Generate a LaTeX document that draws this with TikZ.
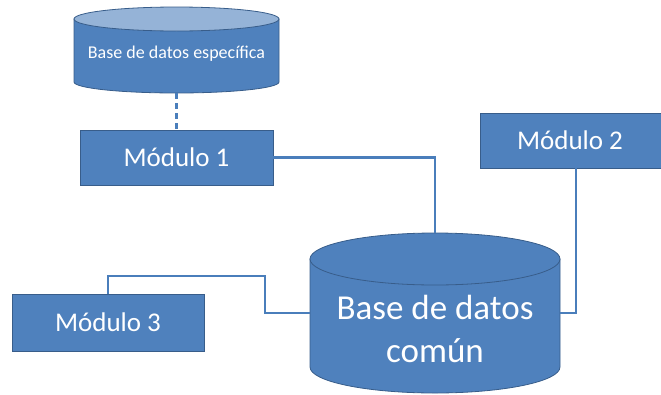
\documentclass[tikz,border=0pt]{standalone}
\usepackage{fontspec}
\setmainfont{Carlito}
\definecolor{boxblue}{HTML}{4F81BD}
\definecolor{boxedge}{HTML}{385D8A}
\definecolor{linkblue}{HTML}{4A7EBB}
\definecolor{toplight}{HTML}{95B3D7}
\begin{document}
\begin{tikzpicture}[x=1pt,y=-1pt,
  modbox/.style={draw=boxedge,fill=boxblue,line width=0.8pt,text=white,
    font=\fontsize{27}{32}\selectfont,inner sep=0pt},
  link/.style={draw=linkblue,line width=2.2pt},
  anchorbox/.style={inner sep=0pt,outer sep=0pt}]
\useasboundingbox (0,0) rectangle (661,394);
\clip (0,0) rectangle (661,394);

% specific database (small cylinder)
\fill[boxblue,draw=boxedge,line width=0.8pt]
  (74,19) -- (74,82) arc[start angle=180,end angle=0,x radius=102.5,y radius=11]
  -- (279,19) -- cycle;
\fill[toplight,draw=boxedge,line width=0.8pt] (176.5,19) ellipse[x radius=102.5,y radius=12];
\node[anchorbox,minimum width=205pt,minimum height=86pt] (dbs) at (176.5,50) {};
\node[text=white,font=\fontsize{18}{21}\selectfont]
  (dbstxt) at (176.5,54) {Base de datos específica};

% common database (large cylinder)
\fill[boxblue,draw=boxedge,line width=0.8pt]
  (310,259) -- (310,367) arc[start angle=180,end angle=0,x radius=125,y radius=26]
  -- (560,259) -- cycle;
\fill[boxblue,draw=boxedge,line width=0.8pt] (435,259) ellipse[x radius=125,y radius=26];
\node[anchorbox,minimum width=250pt,minimum height=160pt] (dbc) at (435,313) {};
\node[text=white,align=center,font=\fontsize{35}{43}\selectfont] (dbctxt) at (435,329)
  {Base de datos\\común};

% modules
\node[modbox,minimum width=193pt,minimum height=55pt] (m1) at (176.5,157.5) {Módulo 1};
\node[modbox,minimum width=192pt,minimum height=55pt] (m2) at (576,140.5) {\hspace*{-12pt}Módulo 2};
\node[modbox,minimum width=192pt,minimum height=57pt] (m3) at (108,322.5) {Módulo 3};

% connectors
\coordinate (k3) at (265,276);
\draw[link,dash pattern=on 6pt off 4pt] (dbs.south) -- (m1.north);
\draw[link] (m1.east) -| (dbc.north);
\draw[link] (m2.south) |- (dbc.east);
\draw[link] (m3.north) |- (k3) |- (dbc.west);
\end{tikzpicture}
\end{document}
